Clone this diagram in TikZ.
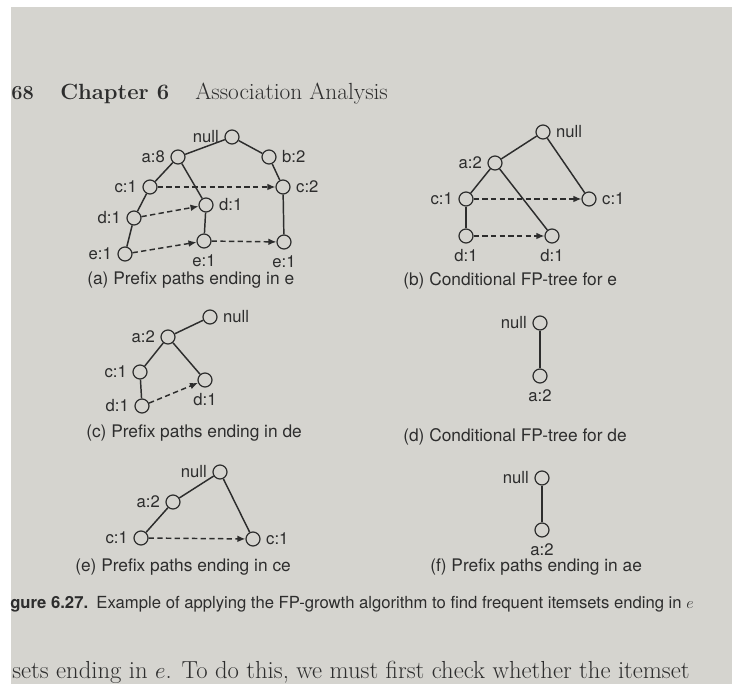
\documentclass[tikz,border=0pt]{standalone}
\usepackage{fontspec}
\newfontfamily\helv{TeX Gyre Heros}
\usetikzlibrary{arrows.meta}

\definecolor{paper}{RGB}{213,212,207}
\definecolor{ink}{RGB}{45,45,45}

\tikzset{
  fp/.style={circle, draw=ink, fill=paper, line width=0.9pt, minimum size=10.5pt, inner sep=0pt},
  edge/.style={ink, line width=1.1pt},
  link/.style={ink, line width=1.1pt, dash pattern=on 4pt off 2.5pt, -{Latex[length=6pt,width=5pt]}},
  every label/.style={font=\helv\fontsize{12.5}{14}\selectfont, text=ink, inner sep=2pt},
  label distance=2pt,
  sub/.style={font=\helv\fontsize{13}{15}\selectfont, text=ink, anchor=base west, inner sep=0pt},
}

\begin{document}
\begin{tikzpicture}[x=0.75pt, y=-0.75pt]
  \useasboundingbox (0,0) rectangle (732,684);
  \fill[white] (0,0) rectangle (732,684);
  \fill[paper] (11,7) rectangle (732,684);

  % page header
  \node[anchor=base west, inner sep=0pt, text=ink, font=\fontsize{15}{18}\selectfont\bfseries] (pg) at (11,100) {68};
  \node[anchor=base west, inner sep=0pt, text=ink, font=\fontsize{16.5}{20}\selectfont\bfseries] (chap) at (60,100) {Chapter 6};
  \node[anchor=base west, inner sep=0pt, text=ink, font=\fontsize{17.5}{21}\selectfont] (title) at (195,100) {Association Analysis};

  % (a)
  \node[fp, label=left:null] (an) at (232,137) {};
  \node[fp, label=left:{a:8}] (aa) at (178,157) {};
  \node[fp, label=right:{b:2}] (ab) at (269,157) {};
  \node[fp, label=left:{c:1}] (ac1) at (150,187) {};
  \node[fp, label=right:{c:2}] (ac2) at (283,187) {};
  \node[fp, label=right:{d:1}] (ad2) at (206,205) {};
  \node[fp, label=left:{d:1}] (ad1) at (134,218) {};
  \node[fp, label=left:{e:1}] (ae1) at (125,254) {};
  \node[fp, label=below:{e:1}] (ae2) at (204,241) {};
  \node[fp, label=below:{e:1}] (ae3) at (284,242) {};
  \draw[edge] (an) -- (aa);
  \draw[edge] (an) -- (ab);
  \draw[edge] (aa) -- (ac1);
  \draw[edge] (aa) -- (ad2);
  \draw[edge] (ac1) -- (ad1);
  \draw[edge] (ad1) -- (ae1);
  \draw[edge] (ad2) -- (ae2);
  \draw[edge] (ab) -- (ac2);
  \draw[edge] (ac2) -- (ae3);
  \draw[link] (ac1) -- (ac2);
  \draw[link] (ad1) -- (ad2);
  \draw[link] (ae1) -- (ae2);
  \draw[link] (ae2) -- (ae3);
  \node[sub] (capa) at (87,285) {(a) Prefix paths ending in e};

  % (b)
  \node[fp, label=right:null] (bn) at (543,132) {};
  \node[fp, label=left:{a:2}] (ba) at (495,163) {};
  \node[fp, label=left:{c:1}] (bc1) at (466,199) {};
  \node[fp, label=right:{c:1}] (bc2) at (589,199) {};
  \node[fp, label=below:{d:1}] (bd1) at (466,236) {};
  \node[fp, label=below:{d:1}] (bd2) at (552,236) {};
  \draw[edge] (bn) -- (ba);
  \draw[edge] (bn) -- (bc2);
  \draw[edge] (ba) -- (bc1);
  \draw[edge] (ba) -- (bd2);
  \draw[edge] (bc1) -- (bd1);
  \draw[link] (bc1) -- (bc2);
  \draw[link] (bd1) -- (bd2);
  \node[sub] (capb) at (403,286) {(b) Conditional FP-tree for e};

  % (c)
  \node[fp, label=right:null] (cn) at (210,317) {};
  \node[fp, label=left:{a:2}] (ca) at (168,337) {};
  \node[fp, label=left:{c:1}] (cc) at (140,372) {};
  \node[fp, label=below:{d:1}] (cd2) at (205,380) {};
  \node[fp, label=left:{d:1}] (cd1) at (142,406) {};
  \draw[edge] (cn) -- (ca);
  \draw[edge] (ca) -- (cc);
  \draw[edge] (ca) -- (cd2);
  \draw[edge] (cc) -- (cd1);
  \draw[link] (cd1) -- (cd2);
  \node[sub] (capc) at (86,437) {(c) Prefix paths ending in de};

  % (d)
  \node[fp, label=left:null] (dn) at (540,323) {};
  \node[fp, label=below:{a:2}] (da) at (540,376) {};
  \draw[edge] (dn) -- (da);
  \node[sub] (capd) at (403,441) {(d) Conditional FP-tree for de};

  % (e)
  \node[fp, label=left:null] (en) at (220,472) {};
  \node[fp, label=left:{a:2}] (ea) at (173,502) {};
  \node[fp, label=left:{c:1}] (ec1) at (141,538) {};
  \node[fp, label=right:{c:1}] (ec2) at (253,539) {};
  \draw[edge] (en) -- (ea);
  \draw[edge] (ea) -- (ec1);
  \draw[edge] (en) -- (ec2);
  \draw[link] (ec1) -- (ec2);
  \node[sub] (cape) at (75,571) {(e) Prefix paths ending in ce};

  % (f)
  \node[fp, label=left:null] (fn) at (542,478) {};
  \node[fp, label=below:{a:2}] (fa) at (542,530) {};
  \draw[edge] (fn) -- (fa);
  \node[sub] (capf) at (430,571) {(f) Prefix paths ending in ae};

  % figure caption and running text
  \node[sub, font=\helv\fontsize{12.5}{14}\selectfont] (fig) at (10,608)
    {\textbf{gure 6.27.}\enspace Example of applying the FP-growth algorithm to find frequent itemsets ending in $e$};
  \node[anchor=base west, inner sep=0pt, text=ink, font=\fontsize{18.5}{22}\selectfont] (body) at (12,678)
    {sets ending in $e$. To do this, we must first check whether the itemset};
\end{tikzpicture}
\end{document}
